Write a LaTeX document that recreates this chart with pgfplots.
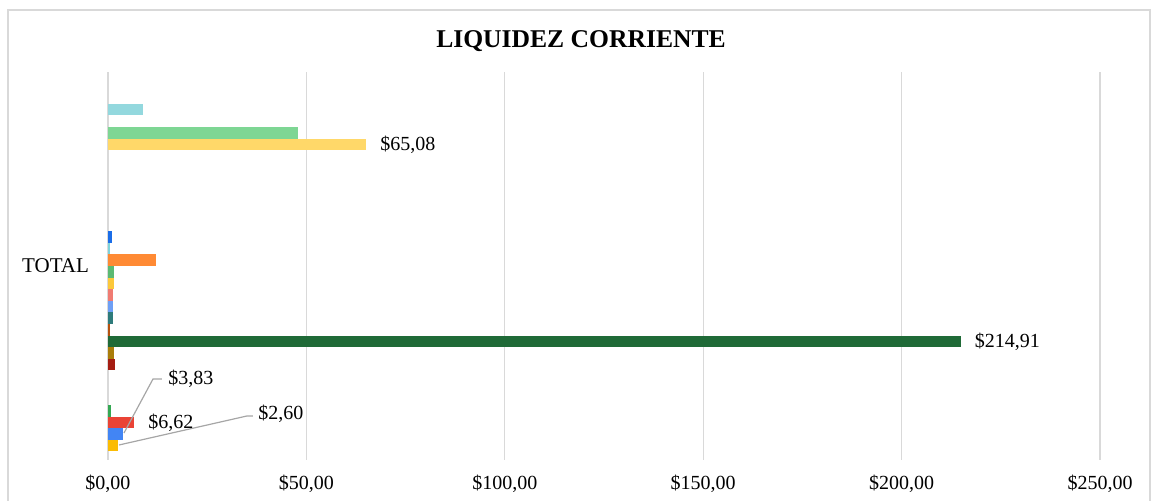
\documentclass[border=0pt]{standalone}
\usepackage{pgfplots}
\pgfplotsset{compat=1.18}
\usepackage{fontspec}
\setmainfont{Liberation Serif}
\definecolor{gridc}{HTML}{D9D9D9}
\definecolor{leadc}{HTML}{A6A6A6}
\definecolor{s0}{HTML}{FBBC04}
\definecolor{s1}{HTML}{4285F4}
\definecolor{s2}{HTML}{EA4335}
\definecolor{s3}{HTML}{34A853}
\definecolor{s7}{HTML}{A51D12}
\definecolor{s8}{HTML}{AA7D0A}
\definecolor{s9}{HTML}{1F6A37}
\definecolor{s10}{HTML}{B5520F}
\definecolor{s11}{HTML}{2E7B7B}
\definecolor{s12}{HTML}{6E9FF5}
\definecolor{s13}{HTML}{F07B72}
\definecolor{s14}{HTML}{FCC83A}
\definecolor{s15}{HTML}{5BBA73}
\definecolor{s16}{HTML}{FF8A34}
\definecolor{s17}{HTML}{7DD3DB}
\definecolor{s18}{HTML}{1A6DE8}
\definecolor{s26}{HTML}{FFD869}
\definecolor{s27}{HTML}{7ED694}
\definecolor{s29}{HTML}{93D8DE}
\begin{document}
\begin{tikzpicture}
\path[use as bounding box] (-54pt,-20.5pt) rectangle (522pt,230pt);
\draw[gridc, line width=0.6pt] (-50pt,-25pt) -- (-50pt,225pt) -- (521pt,225pt) -- (521pt,-25pt);
\node[font=\bfseries\fontsize{12.8}{15}\selectfont] at (236.5pt,209.5pt) {LIQUIDEZ CORRIENTE};
\begin{axis}[
  at={(0pt,0pt)}, anchor=south west,
  scale only axis, width=496pt, height=194pt,
  xbar, bar width=5.793pt,
  xmin=0, xmax=250, ymin=-1, ymax=1,
  xtick={0,50,100,150,200,250},
  xticklabels={{\$0,00},{\$50,00},{\$100,00},{\$150,00},{\$200,00},{\$250,00}},
  ytick={0}, yticklabels={TOTAL},
  xmajorgrids, grid style={draw=gridc, line width=0.6pt},
  axis line style={draw=none}, major tick length=0pt,
  tick label style={font=\fontsize{10}{12}\selectfont, text=black},
  xticklabel style={yshift=-4pt},
  yticklabel style={xshift=-6pt, font=\fontsize{10.5}{12}\selectfont},
  clip=false,
  every node near coord/.append style={anchor=west, font=\fontsize{10}{12}\selectfont, text=black, xshift=3.5pt},
]
\addplot[fill=s0, draw=none, bar shift=-89.79pt] coordinates {(2.60,0)};
\addplot[fill=s1, draw=none, bar shift=-84.00pt] coordinates {(3.83,0)};
\addplot[fill=s2, draw=none, bar shift=-78.21pt, nodes near coords={\$6,62}] coordinates {(6.62,0)};
\addplot[fill=s3, draw=none, bar shift=-72.42pt] coordinates {(0.7,0)};
\addplot[fill=s7, draw=none, bar shift=-49.24pt] coordinates {(1.8,0)};
\addplot[fill=s8, draw=none, bar shift=-43.45pt] coordinates {(1.5,0)};
\addplot[fill=s9, draw=none, bar shift=-37.66pt, nodes near coords={\$214,91}] coordinates {(214.91,0)};
\addplot[fill=s10, draw=none, bar shift=-31.86pt] coordinates {(0.6,0)};
\addplot[fill=s11, draw=none, bar shift=-26.07pt] coordinates {(1.2,0)};
\addplot[fill=s12, draw=none, bar shift=-20.28pt] coordinates {(1.2,0)};
\addplot[fill=s13, draw=none, bar shift=-14.48pt] coordinates {(1.2,0)};
\addplot[fill=s14, draw=none, bar shift=-8.69pt] coordinates {(1.4,0)};
\addplot[fill=s15, draw=none, bar shift=-2.90pt] coordinates {(1.5,0)};
\addplot[fill=s16, draw=none, bar shift=2.90pt] coordinates {(12.1,0)};
\addplot[fill=s17, draw=none, bar shift=8.69pt] coordinates {(0.6,0)};
\addplot[fill=s18, draw=none, bar shift=14.48pt] coordinates {(0.9,0)};
\addplot[fill=s26, draw=none, bar shift=60.83pt, nodes near coords={\$65,08}] coordinates {(65.08,0)};
\addplot[fill=s27, draw=none, bar shift=66.62pt] coordinates {(47.9,0)};
\addplot[fill=s29, draw=none, bar shift=78.21pt] coordinates {(8.9,0)};
\draw[leadc, line width=0.6pt] ([yshift=-83.5pt]axis cs:4.03,0) -- ([yshift=-56.5pt]axis cs:11.34,0) -- ([yshift=-56.5pt]axis cs:13.6,0);
\node[anchor=west, inner sep=0pt, font=\fontsize{10}{12}\selectfont] at ([yshift=-56.5pt]axis cs:15.1,0) {\$3,83};
\draw[leadc, line width=0.6pt] ([yshift=-89.5pt]axis cs:2.77,0) -- ([yshift=-75pt]axis cs:35.0,0) -- ([yshift=-75pt]axis cs:36.5,0);
\node[anchor=west, inner sep=0pt, font=\fontsize{10}{12}\selectfont] at ([yshift=-74pt]axis cs:37.8,0) {\$2,60};
\end{axis}
\end{tikzpicture}
\end{document}
